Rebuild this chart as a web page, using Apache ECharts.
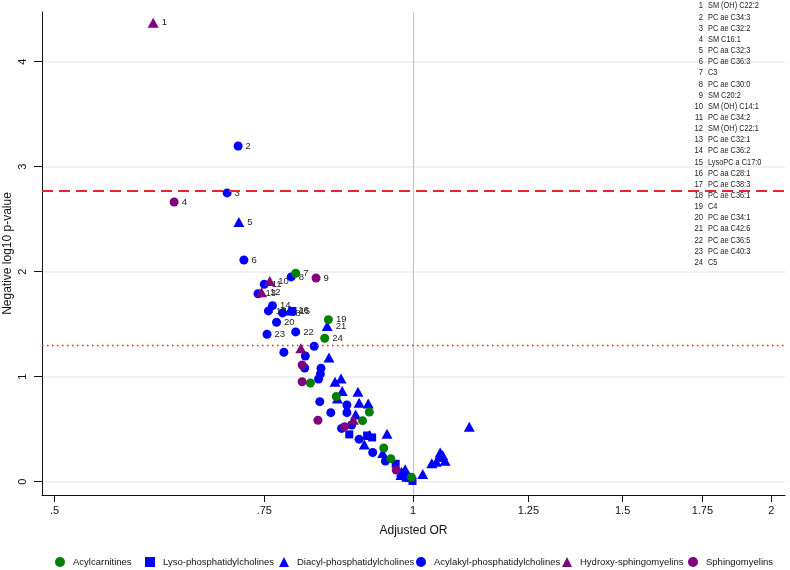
<!DOCTYPE html>
<html><head><meta charset="utf-8">
<script src="https://cdn.jsdelivr.net/npm/echarts@6/dist/echarts.min.js"></script>
<style>html,body{margin:0;padding:0;background:#fff}#c{width:790px;height:570px}</style>
</head><body><div id="c"></div>
<script>
// ---- tick labels ----
const xTickValues = [0.5, 0.75, 1, 1.25, 1.5, 1.75, 2];
const xTickLabels = ['.5', '.75', '1', '1.25', '1.5', '1.75', '2'];
const yTickValues = [0, 1, 2, 3, 4];
const refOR = 1;
const strictThreshold = 2.77;
const nominalThreshold = 1.301;

// ---- categories ----
const groupNames = ['Acylcarnitines', 'Lyso-phosphatidylcholines', 'Diacyl-phosphatidylcholines',
  'Acylakyl-phosphatidylcholines', 'Hydroxy-sphingomyelins', 'Sphingomyelins'];

// ---- labelled metabolites (1..24) ----
const metaboliteNames = ['SM (OH) C22:2', 'PC ae C34:3', 'PC ae C32:2', 'SM C16:1', 'PC aa C32:3',
  'PC ae C36:3', 'C3', 'PC ae C30:0', 'SM C20:2', 'SM (OH) C14:1', 'PC ae C34:2', 'SM (OH) C22:1',
  'PC ae C32:1', 'PC ae C36:2', 'LysoPC a C17:0', 'PC aa C28:1', 'PC ae C38:3', 'PC ae C36:1', 'C4',
  'PC ae C34:1', 'PC aa C42:6', 'PC ae C36:5', 'PC ae C40:3', 'C5'];

// ---- series values: adjusted OR, -log10 p, label id ----
const acylcarnOR = [0.797, 0.849, 0.843, 0.820, 0.862, 0.919, 0.907, 0.945, 0.958, 0.997];
const acylcarnP  = [1.985, 1.543, 1.366, 0.940, 0.810, 0.664, 0.581, 0.321, 0.219, 0.042];
const acylcarnId = [7, 19, 24];

const lysoOR = [0.792, 0.884, 0.915, 0.924, 0.967, 0.992, 0.999];
const lysoP  = [1.626, 0.450, 0.440, 0.421, 0.170, 0.035, 0.007];
const lysoId = [15];

const diacylOR = [0.714, 0.788, 0.847, 0.850, 0.860, 0.870, 0.872, 0.864, 0.899, 0.901, 0.917, 0.895,
  0.919, 0.910, 0.951, 0.943, 0.985, 0.978, 0.977, 0.988, 1.019, 1.054, 1.059, 1.052, 1.046, 1.064, 1.037, 1.115];
const diacylP  = [2.473, 1.630, 1.483, 1.183, 0.952, 0.983, 0.864, 0.792, 0.856, 0.752, 0.745, 0.640,
  0.445, 0.354, 0.456, 0.273, 0.118, 0.095, 0.064, 0.048, 0.073, 0.278, 0.254, 0.235, 0.190, 0.200, 0.175, 0.524];
const diacylId = [5, 16, 21];

const acylalkylOR = [0.713, 0.698, 0.721, 0.790, 0.750, 0.741, 0.762, 0.756, 0.777, 0.768, 0.797, 0.754,
  0.826, 0.779, 0.812, 0.811, 0.837, 0.836, 0.833, 0.835, 0.853, 0.880, 0.880, 0.888, 0.871, 0.901, 0.925, 0.948];
const acylalkylP  = [3.197, 2.750, 2.111, 1.950, 1.880, 1.790, 1.676, 1.626, 1.607, 1.518, 1.426, 1.404,
  1.290, 1.232, 1.197, 1.083, 1.081, 1.026, 0.978, 0.762, 0.657, 0.730, 0.657, 0.540, 0.507, 0.405, 0.278, 0.197];
const acylalkylId = [2, 3, 6, 8, 11, 13, 14, 17, 18, 20, 22, 23];

const hydroxyOR = [0.605, 0.758, 0.746, 0.805, 0.891];
const hydroxyP  = [4.370, 1.911, 1.804, 1.270, 0.590];
const hydroxyId = [1, 10, 12];

const smOR = [0.630, 0.829, 0.807, 0.807, 0.832, 0.876, 0.968];
const smP  = [2.664, 1.940, 1.111, 0.952, 0.585, 0.524, 0.110];
const smId = [4, 9];

// ---- styles ----
const GREEN = '#008000', BLUE = '#0000ff', PURPLE = '#800080';
const SANS = '"Liberation Sans", Arial, Helvetica, sans-serif';

function build(ors, ps, ids) {
  return ors.map((o, i) => ({ value: [Math.log(o), ps[i]], lab: ids[i] != null ? String(ids[i]) : '' }));
}

function mkSeries(name, ors, ps, ids, symbol, size, color, z) {
  return {
    name, type: 'scatter', symbol, symbolSize: size, z: z,
    itemStyle: { color, opacity: 1 },
    data: build(ors, ps, ids),
    label: { show: true, position: 'right', distance: 3, formatter: p => p.data.lab,
      fontFamily: SANS, fontSize: 9.5, color: '#222' },
    emphasis: { disabled: true }
  };
}

const lx = v => Math.log(v);
const xMin = -0.7176, xMax = 0.7195;

const series = [
  mkSeries(groupNames[3], acylalkylOR, acylalkylP, acylalkylId, 'circle', 9, BLUE, 3),
  mkSeries(groupNames[2], diacylOR, diacylP, diacylId, 'triangle', [11, 10], BLUE, 4),
  mkSeries(groupNames[1], lysoOR, lysoP, lysoId, 'rect', 8, BLUE, 5),
  mkSeries(groupNames[0], acylcarnOR, acylcarnP, acylcarnId, 'circle', 9, GREEN, 6),
  mkSeries(groupNames[5], smOR, smP, smId, 'circle', 9, PURPLE, 7),
  mkSeries(groupNames[4], hydroxyOR, hydroxyP, hydroxyId, 'triangle', [11, 10], PURPLE, 8)
];

// reference lines
series.push({
  type: 'scatter', data: [], silent: true, z: 2,
  markLine: {
    silent: true, symbol: 'none', animation: false, label: { show: false },
    data: [
      { xAxis: lx(refOR), lineStyle: { color: '#c4c4c4', width: 1.2, type: 'solid' } },
      { yAxis: strictThreshold, lineStyle: { color: '#e5262b', width: 2, type: [11, 6] } },
      { yAxis: nominalThreshold, lineStyle: { color: '#ff2020', width: 1.4, type: [1.5, 3.5] } }
    ]
  }
});

const legendIcons = ['circle', 'rect', 'triangle', 'circle', 'triangle', 'circle'];
const legendColors = [GREEN, BLUE, BLUE, BLUE, PURPLE, PURPLE];
const legendLeft = [50, 140, 274, 411, 557, 683];
const legends = groupNames.map((n, i) => ({
  left: legendLeft[i], top: 552, itemWidth: 10, itemHeight: 10, selectedMode: false,
  data: [{ name: n, icon: legendIcons[i], itemStyle: { color: legendColors[i] } }],
  textStyle: { fontFamily: SANS, fontSize: 9.5, color: '#111', padding: [0, 0, 0, 3] }
}));

const listGraphics = [];
metaboliteNames.forEach((nm, i) => {
  const y = 6 + i * 11.15;
  listGraphics.push({ type: 'text', x: 703, y: y, z: 10, silent: true, scaleX: 0.85,
    style: { text: String(i + 1), fontFamily: SANS, fontSize: 9, fill: '#222', align: 'right', verticalAlign: 'middle' } });
  listGraphics.push({ type: 'text', x: 708, y: y, z: 10, silent: true, scaleX: 0.82,
    style: { text: nm, fontFamily: SANS, fontSize: 9, fill: '#222', align: 'left', verticalAlign: 'middle' } });
});

const option = {
  animation: false,
  backgroundColor: '#fff',
  grid: { left: 42, right: 5, top: 12, bottom: 75, containLabel: false, outerBoundsMode: 'none' },
  legend: legends,
  graphic: listGraphics,
  xAxis: {
    type: 'value', min: xMin, max: xMax,
    name: 'Adjusted OR', nameLocation: 'middle', nameGap: 30, nameMoveOverlap: false,
    nameTextStyle: { fontFamily: SANS, fontSize: 12, color: '#111' },
    axisLine: { show: true, onZero: false, lineStyle: { color: '#111', width: 1 } },
    axisTick: { show: true, length: 7, customValues: xTickValues.map(lx), lineStyle: { color: '#111' } },
    axisLabel: { customValues: xTickValues.map(lx), margin: 10, fontFamily: SANS, fontSize: 11, color: '#111',
      formatter: v => { const k = xTickValues.findIndex(t => Math.abs(Math.log(t) - v) < 1e-6); return k >= 0 ? xTickLabels[k] : ''; } },
    splitLine: { show: false }
  },
  yAxis: {
    type: 'value', min: -0.127, max: 4.473,
    name: 'Negative log10 p-value', nameLocation: 'middle', nameGap: 28, nameMoveOverlap: false,
    nameTextStyle: { fontFamily: SANS, fontSize: 12, color: '#111' },
    axisLine: { show: true, onZero: false, lineStyle: { color: '#111', width: 1 } },
    axisTick: { show: true, length: 8, customValues: yTickValues, lineStyle: { color: '#111' } },
    axisLabel: { customValues: yTickValues, rotate: 90, margin: 14, fontFamily: SANS, fontSize: 11, color: '#111' },
    splitLine: { show: true, lineStyle: { color: '#e8eef4', width: 1.5 } }
  },
  series
};

const chart = echarts.init(document.getElementById('c'), null, { renderer: 'canvas' });
chart.setOption(option);
</script>
</body></html>
